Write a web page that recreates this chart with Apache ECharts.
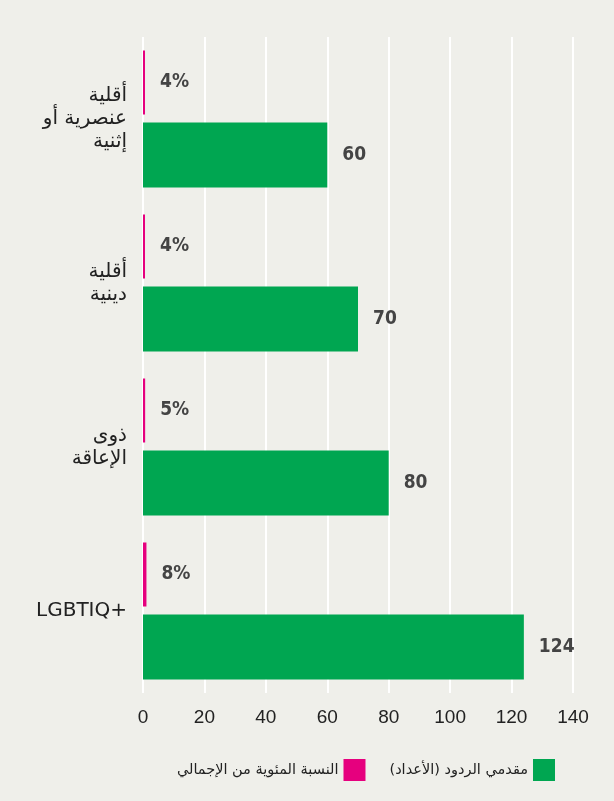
<!DOCTYPE html>
<html dir="ltr">
<head>
<meta charset="utf-8">
<script src="https://cdn.jsdelivr.net/npm/echarts@6/dist/echarts.min.js"></script>
<style>
html,body{margin:0;padding:0;background:#efefea;}
#chart{width:614px;height:801px;}
</style>
</head>
<body>
<div id="chart"></div>
<script>
// categories (top to bottom)
var categories=['أقلية\nعنصرية أو\nإثنية','أقلية\nدينية','ذوى\nالإعاقة','LGBTIQ+'];
// share of total, %
var pctValues=[4,4,5,8];
// respondents count
var countValues=[60,70,80,124];
var xTicks=[0,20,40,60,80,100,120,140];

var pctName='النسبة المئوية من الإجمالي';
var countName='مقدمي الردود (الأعداد)';

var chart=echarts.init(document.getElementById('chart'));
chart.setOption({
	backgroundColor:'#efefea',
	animation:false,
	grid:{left:143,right:41,top:37,bottom:108,containLabel:false},
	legend:{
		data:[pctName,countName],
		right:54,
		top:754,
		align:'right',
		itemWidth:22,
		itemHeight:22,
		itemGap:24,
		icon:'rect',
		textStyle:{fontFamily:'DejaVu Sans, sans-serif',fontSize:14.5,color:'#222'}
	},
	xAxis:[{
		type:'value',
		min:xTicks[0],
		max:xTicks[xTicks.length-1],
		interval:20,
		axisLine:{show:false},
		axisTick:{show:false},
		splitLine:{show:true,lineStyle:{color:'#ffffff',width:2}},
		axisLabel:{margin:15,fontFamily:'Liberation Sans, sans-serif',fontSize:19,color:'#222'}
	},{
		// hidden axis for the thin percentage markers
		type:'value',
		min:0,
		max:1000,
		show:false
	}],
	yAxis:{
		type:'category',
		inverse:true,
		data:categories,
		axisLine:{show:false},
		axisTick:{show:false},
		axisLabel:{margin:16,align:'right',fontFamily:'DejaVu Sans, sans-serif',fontSize:20,lineHeight:23,color:'#222'}
	},
	series:[{
		name:pctName,
		type:'bar',
		xAxisIndex:1,
		data:pctValues,
		barWidth:64,
		barGap:'12.5%',
		barMinHeight:2,
		itemStyle:{color:'#e6007e'},
		label:{show:true,position:'right',distance:15,formatter:'{c}%',
			fontFamily:'DejaVu Sans Condensed, sans-serif',fontWeight:'bold',fontSize:19,color:'#444'}
	},{
		name:countName,
		type:'bar',
		data:countValues,
		barWidth:65,
		itemStyle:{color:'#00a651'},
		label:{show:true,position:'right',distance:15,
			fontFamily:'DejaVu Sans Condensed, sans-serif',fontWeight:'bold',fontSize:19,color:'#444'}
	}]
});
</script>
</body>
</html>
